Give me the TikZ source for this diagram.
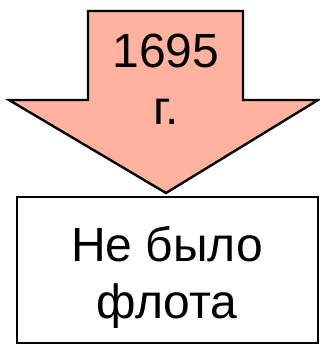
\documentclass[tikz,border=0pt]{standalone}
\usepackage{fontspec}
\setmainfont{Liberation Sans}
\usetikzlibrary{calc}
\usetikzlibrary{positioning}

\definecolor{salmon}{RGB}{255,178,158}

\begin{document}
\begin{tikzpicture}[x=1pt,y=1pt,
every node/.style={inner sep=0pt,align=center,font=\fontsize{48}{57}\selectfont}]

\useasboundingbox (0,0) rectangle (320,-345);

\coordinate (a) at (88,-11);
\coordinate (b) at (243,-11);
\coordinate (c) at (243,-100);
\coordinate (d) at (318,-100);
\coordinate (e) at (166,-193);
\coordinate (f) at (9,-100);
\coordinate (g) at (88,-100);
\draw[line width=2.4pt,fill=salmon,line join=miter] (a)--(b)--(c)--(d)--(e)--(f)--(g)--cycle;

\node (year) at (166,-79) {1695\\г.};

\node[draw,line width=2.4pt,minimum width=301pt,minimum height=146pt] (box) at (167.5,-270) {};
\node (fleet) at (167,-277) {Не было\\флота};

\end{tikzpicture}
\end{document}
